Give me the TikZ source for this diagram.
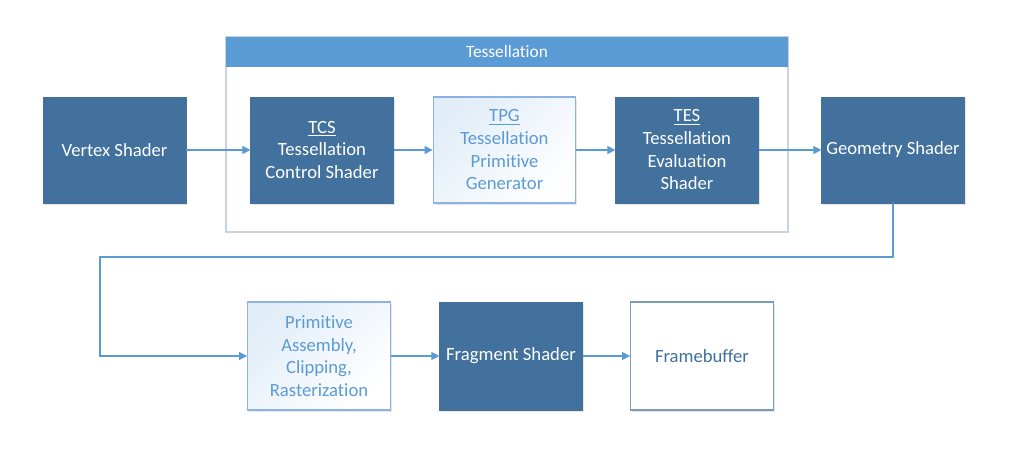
\documentclass[tikz,border=0pt]{standalone}
\usepackage{fontspec}
\setmainfont[Ligatures={NoCommon}]{Carlito}
\usetikzlibrary{arrows.meta}
\usetikzlibrary{shadows}
\definecolor{darkblue}{HTML}{41719C}
\definecolor{lineblue}{HTML}{5B9BD5}
\definecolor{paleblue}{HTML}{8DB3E2}
\definecolor{frameblue}{HTML}{C9D4E2}

\begin{document}
\begin{tikzpicture}[x=0.75pt,y=-0.75pt,
  stage/.style = {rectangle, minimum width=107pt, minimum height=79.5pt, inner sep=1pt, align=center,
    font=\fontsize{14}{17}\selectfont, drop shadow={shadow xshift=1pt, shadow yshift=-1.2pt, opacity=0.2}},
  dark/.style = {stage, fill=darkblue, draw=darkblue, text=white},
  light/.style = {stage, draw=paleblue, top color=lineblue!18, middle color=white, bottom color=white, shading angle=45, text=lineblue, line width=0.8pt},
  plain/.style = {stage, fill=white, draw=darkblue!70, text=darkblue, line width=0.8pt},
  arr/.style = {draw=lineblue, line width=0.8pt, -{Triangle[length=6pt,width=6pt]}}
  ]
\useasboundingbox (0,0) rectangle (1024,456);
\draw[frameblue, line width=1pt, fill=white] (226,37) rectangle (788,232);
\path[fill=lineblue] (226,37) rectangle (788,67);
\node[text=white, font=\fontsize{13}{15}\selectfont] (tess) at (507,52) {Tessellation};

\node[dark] (vs) at (114.5,150) {Vertex Shader};
\node[dark] (tcs) at (322,150) {\underline{TCS}\\Tessellation\\Control Shader};
\node[light] (tpg) at (504.5,150) {\underline{TPG}\\Tessellation\\Primitive\\Generator};
\node[dark] (tes) at (687,150) {\underline{TES}\\Tessellation\\Evaluation\\Shader};
\node[dark] (gs) at (893,150) {Geometry Shader};

\node[light, minimum height=81pt] (pa) at (319,356) {Primitive\\Assembly,\\Clipping,\\Rasterization};
\node[dark, minimum height=81pt] (fs) at (511,356) {Fragment Shader};
\node[plain, minimum height=81pt] (fb) at (702,356) {Framebuffer};

\coordinate (turn) at (100,257);
\draw[arr] (vs) -- (tcs);
\draw[arr] (tcs) -- (tpg);
\draw[arr] (tpg) -- (tes);
\draw[arr] (tes) -- (gs);
\draw[arr] (gs.south) |- (turn) |- (pa.west);
\draw[arr] (pa) -- (fs);
\draw[arr] (fs) -- (fb);

\end{tikzpicture}
\end{document}
